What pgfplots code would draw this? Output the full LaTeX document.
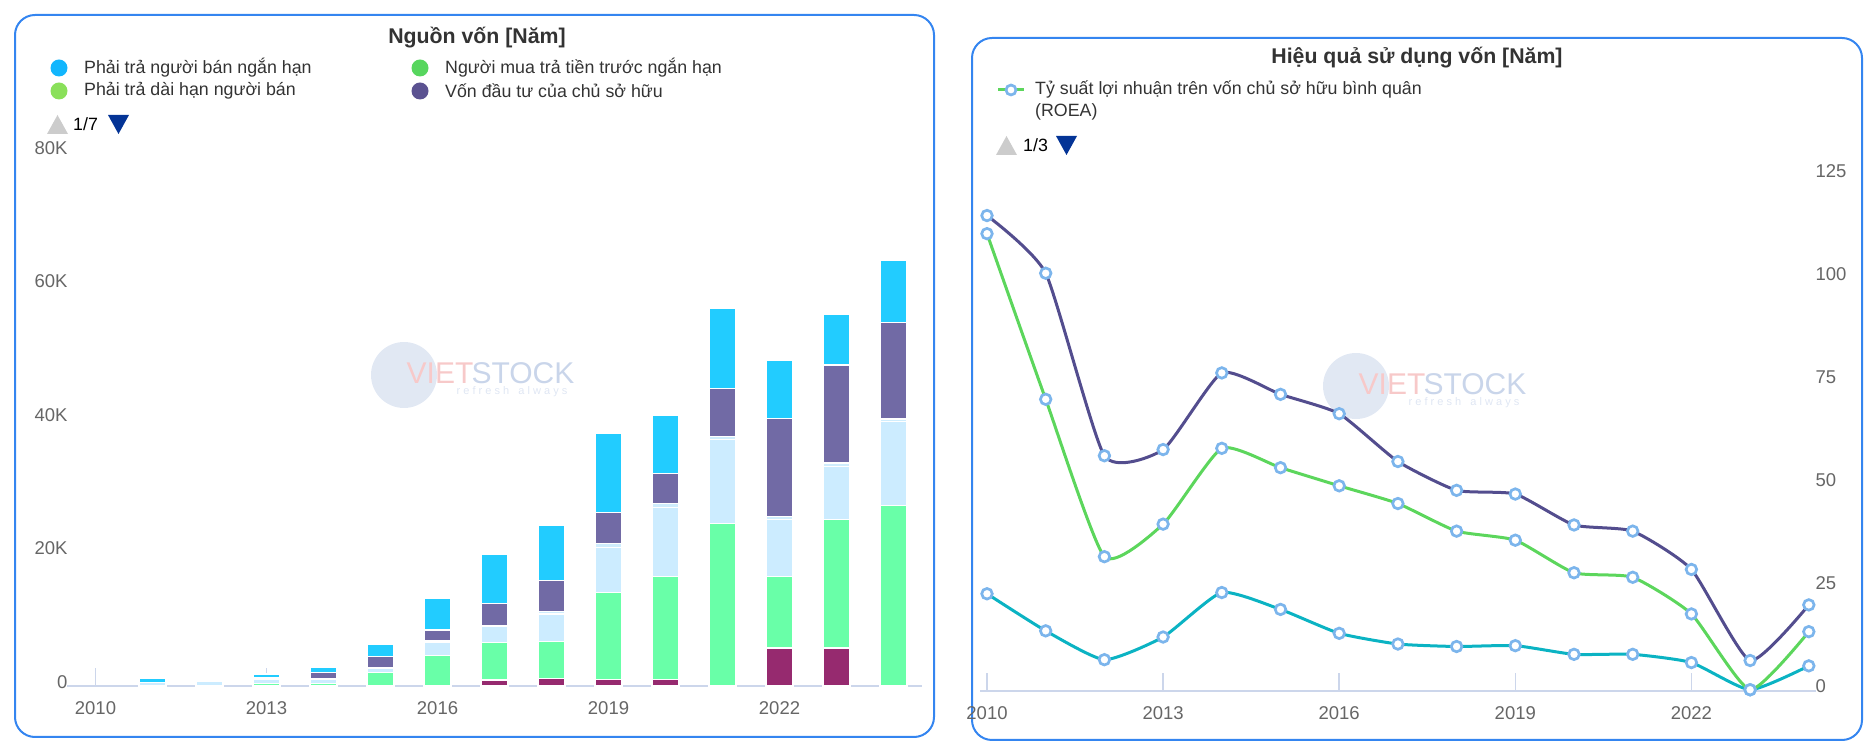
\documentclass[border=0pt]{standalone}
\usepackage{pgfplots}
\pgfplotsset{compat=1.18}
\usepackage{pgfplotstable}
\usepackage{fontspec}
\setmainfont{Liberation Sans}

\definecolor{cmaroon}{HTML}{962A6F}
\definecolor{cgreen}{HTML}{69FFA8}
\definecolor{clblue}{HTML}{CCECFF}
\definecolor{cband}{HTML}{CFEDFD}
\definecolor{cpurple}{HTML}{716AA5}
\definecolor{ccyan}{HTML}{22CCFF}
\definecolor{lgcyan}{HTML}{12B6FD}
\definecolor{lggreen}{HTML}{57D65E}
\definecolor{lglime}{HTML}{8AE05A}
\definecolor{lgpurple}{HTML}{5B5291}
\definecolor{axisc}{HTML}{CCD6EB}
\definecolor{ticklab}{HTML}{666666}
\definecolor{titlec}{HTML}{333333}
\definecolor{panelc}{HTML}{3485F0}
\definecolor{lpurple}{HTML}{534D8E}
\definecolor{lgreen}{HTML}{5CD65C}
\definecolor{lteal}{HTML}{0BB3C3}
\definecolor{mstroke}{HTML}{7CB5EC}
\definecolor{navy}{HTML}{043496}
\definecolor{wmblue}{HTML}{C9D5EA}
\definecolor{wmpink}{HTML}{F7C9C9}

% Nguon von (stacked, values)
\pgfplotstableread{
x maroon green lblue band purple cyan
0 0 0 0 0 0 0
1 0 0 550 0 0 550
2 0 100 650 50 100 300
3 0 400 600 100 200 500
4 0 400 600 150 850 800
5 0 2000 600 150 1650 1900
6 0 4600 2000 200 1600 4700
7 900 5600 2400 200 3300 7350
8 1150 5550 4100 400 4600 8200
9 1000 13000 6800 600 4600 11900
10 1000 15400 10400 500 4500 8700
11 0 24300 12600 500 7200 11900
12 5700 10700 8500 500 14700 8700
13 5700 19200 8000 500 14700 7600
14 0 27000 12600 400 14500 9200
}\nguonvon

% Hieu qua su dung von
\pgfplotstableread{
year purple green teal
2010 115.4 111.0 23.6
2011 101.4 70.8 14.6
2012 57.1 32.6 7.6
2013 58.6 40.5 13.1
2014 77.2 58.9 23.9
2015 72.0 54.2 19.8
2016 67.3 49.8 14.0
2017 55.7 45.5 11.4
2018 48.7 38.8 10.8
2019 47.8 36.6 11.0
2020 40.3 28.7 8.9
2021 38.8 27.6 8.9
2022 29.5 18.7 6.9
2023 7.4 0.3 0.3
2024 20.9 14.4 6.1
}\hieuqua

\newcommand{\fTitle}{\fontsize{21.3bp}{25bp}\selectfont\bfseries}
\newcommand{\fLeg}{\fontsize{17.8bp}{21bp}\selectfont}
\newcommand{\fTick}{\fontsize{18.5bp}{22bp}\selectfont}

\begin{document}
\begin{tikzpicture}[x=1bp,y=1bp]
\path[use as bounding box] (0,0) rectangle (1874,756);

% panels
\draw[panelc, line width=2bp, rounded corners=20bp] (15,19) rectangle (934,741);
\draw[panelc, line width=2bp, rounded corners=20bp] (972,16) rectangle (1862,718);

% watermarks
\fill[wmblue, opacity=0.55] (404,381) circle (33);
\node[text=wmpink, font=\fontsize{30bp}{30bp}\selectfont] at (440,383) {VIET};
\node[text=wmblue, font=\fontsize{30bp}{30bp}\selectfont, anchor=west] at (468,383) {STOCK};
\node[text=wmblue!60, font=\fontsize{11bp}{11bp}\selectfont] at (512,364) {r e f r e s h \ \ a l w a y s};
\fill[wmblue, opacity=0.55] (1356,370) circle (33);
\node[text=wmpink, font=\fontsize{30bp}{30bp}\selectfont] at (1392,372) {VIET};
\node[text=wmblue, font=\fontsize{30bp}{30bp}\selectfont, anchor=west] at (1420,372) {STOCK};
\node[text=wmblue!60, font=\fontsize{11bp}{11bp}\selectfont] at (1464,353) {r e f r e s h \ \ a l w a y s};

% ---------- left titles / legend ----------
\node[text=titlec, font=\fTitle] at (477,718) {Nguồn vốn [Năm]};
\fill[lgcyan] (59,688) circle (8.5);
\node[anchor=west, text=titlec, font=\fLeg, inner sep=0] at (84,688) {Phải trả người bán ngắn hạn};
\fill[lglime] (59,665) circle (8.5);
\node[anchor=west, text=titlec, font=\fLeg, inner sep=0] at (84,665) {Phải trả dài hạn người bán};
\fill[lggreen] (420,688) circle (8.5);
\node[anchor=west, text=titlec, font=\fLeg, inner sep=0] at (445,688) {Người mua trả tiền trước ngắn hạn};
\fill[lgpurple] (420,665) circle (8.5);
\node[anchor=west, text=titlec, font=\fLeg, inner sep=0] at (445,665) {Vốn đầu tư của chủ sở hữu};
\fill[black!20] (47,622) -- (68,622) -- (57.5,641) -- cycle;
\node[anchor=west, font=\fLeg, inner sep=0] at (73,632) {1/7};
\fill[navy] (108,641) -- (129,641) -- (118.5,622) -- cycle;

% ---------- right titles / legend ----------
\node[text=titlec, font=\fTitle] at (1417,698) {Hiệu quả sử dụng vốn [Năm]};
\draw[lgreen, line width=3bp] (998,666) -- (1024,666);
\draw[mstroke, fill=white, line width=2.7bp] (1011,666) circle (5);
\node[anchor=west, text=titlec, font=\fLeg, inner sep=0] at (1035,666) {Tỷ suất lợi nhuận trên vốn chủ sở hữu bình quân};
\node[anchor=west, text=titlec, font=\fLeg, inner sep=0] at (1035,644) {(ROEA)};
\fill[black!20] (996,601) -- (1017,601) -- (1006.5,620) -- cycle;
\node[anchor=west, font=\fLeg, inner sep=0] at (1023,611) {1/3};
\fill[navy] (1056,620) -- (1077,620) -- (1066.5,601) -- cycle;

% ---------- left chart ----------
\begin{axis}[
  at={(67bp,70bp)}, anchor=south west, scale only axis,
  width=855bp, height=534bp,
  ybar stacked, bar width=27bp,
  xmin=-0.5, xmax=14.5, ymin=0, ymax=80000,
  axis x line*=bottom, axis y line*=left,
  x axis line style={draw=axisc, line width=1.5bp, -},
  y axis line style={draw=none},
  xtick={0,3,6,9,12}, xticklabels={2010,2013,2016,2019,2022},
  ytick={0,20000,40000,60000,80000}, yticklabels={0,20K,40K,60K,80K},
  scaled y ticks=false,
  /pgf/number format/assume math mode=true,
  tick align=inside, major tick length=18bp,
  x tick style={draw=axisc, line width=1.5bp},
  y tick style={draw=none},
  ticklabel style={font=\fTick, text=ticklab},
  xticklabel style={yshift=-12bp},
  yticklabel style={anchor=east, xshift=4bp, yshift=4bp},
  clip=false,
]
\addplot[fill=cmaroon, draw=white, line width=1.2bp] table[x=x,y=maroon]{\nguonvon};
\addplot[fill=cgreen, draw=white, line width=1.2bp] table[x=x,y=green]{\nguonvon};
\addplot[fill=clblue, draw=white, line width=1.2bp] table[x=x,y=lblue]{\nguonvon};
\addplot[fill=cband, draw=white, line width=1.2bp] table[x=x,y=band]{\nguonvon};
\addplot[fill=cpurple, draw=white, line width=1.2bp] table[x=x,y=purple]{\nguonvon};
\addplot[fill=ccyan, draw=white, line width=1.2bp] table[x=x,y=cyan]{\nguonvon};
\end{axis}

% ---------- right chart ----------
\begin{axis}[
  at={(980bp,65bp)}, anchor=south west, scale only axis,
  width=836bp, height=515bp,
  xmin=2009.881, xmax=2024.123, ymin=0, ymax=125,
  axis x line*=bottom, axis y line*=right,
  x axis line style={draw=axisc, line width=1.5bp, -},
  y axis line style={draw=none},
  xtick={2010,2013,2016,2019,2022}, xticklabels={2010,2013,2016,2019,2022},
  ytick={0,25,50,75,100,125}, yticklabels={0,25,50,75,100,125},
  /pgf/number format/assume math mode=true,
  tick align=inside, major tick length=18bp,
  x tick style={draw=axisc, line width=1.5bp},
  y tick style={draw=none},
  ticklabel style={font=\fTick, text=ticklab},
  xticklabel style={yshift=-12bp},
  yticklabel style={anchor=east, xshift=-4bp, yshift=5bp},
  yticklabel style={anchor=west},
  clip=false,
]
\addplot[lteal, line width=3bp, smooth, tension=0.32, mark=*, mark size=5.3bp, mark options={fill=white, draw=mstroke, line width=2.7bp}] table[x=year,y=teal]{\hieuqua};
\addplot[lgreen, line width=3bp, smooth, tension=0.32, mark=*, mark size=5.3bp, mark options={fill=white, draw=mstroke, line width=2.7bp}] table[x=year,y=green]{\hieuqua};
\addplot[lpurple, line width=3bp, smooth, tension=0.32, mark=*, mark size=5.3bp, mark options={fill=white, draw=mstroke, line width=2.7bp}] table[x=year,y=purple]{\hieuqua};
\end{axis}
\end{tikzpicture}
\end{document}
